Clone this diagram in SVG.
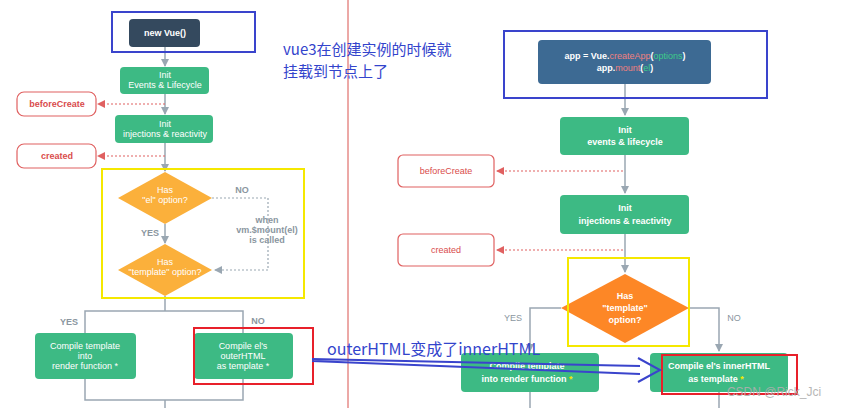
<svg xmlns="http://www.w3.org/2000/svg" width="845" height="408" viewBox="0 0 845 408">
<style>
text{font-family:"Liberation Sans",Arial,sans-serif;text-anchor:middle}
.g{fill:#3dba84}
.wt{fill:#fff;font-size:9px}
.wb{fill:#fff;font-size:9px;font-weight:bold}
.hook{fill:#fff;stroke:#e06060;stroke-width:1.2}
.ht{fill:#d94c4c;font-size:9px}
.ln{stroke:#9aa7b2;stroke-width:1.5;fill:none}
.dr{stroke:#e06060;stroke-width:1.2;stroke-dasharray:2 2;fill:none}
.dg{stroke:#9aa7b2;stroke-width:1.2;stroke-dasharray:2 2;fill:none}
.lbl{fill:#8a96a0;font-size:9px}
.blue{fill:none;stroke:#3a44cc;stroke-width:2}
.yel{fill:none;stroke:#f5e800;stroke-width:2}
.red{fill:none;stroke:#e8202a;stroke-width:2}
.cn{fill:#3344cc;font-family:"Noto Sans CJK SC",sans-serif;text-anchor:start}
</style>
<defs>
<marker id="ag" markerWidth="8" markerHeight="8" refX="7" refY="4" orient="auto" markerUnits="userSpaceOnUse"><path d="M0,0 L8,4 L0,8 z" fill="#9aa7b2"/></marker>
<marker id="ar" markerWidth="8" markerHeight="8" refX="7" refY="4" orient="auto" markerUnits="userSpaceOnUse"><path d="M0,0 L8,4 L0,8 z" fill="#e06060"/></marker>
</defs>
<rect width="845" height="408" fill="#fff"/>
<line x1="348" y1="0" x2="348" y2="408" stroke="#d9534f" stroke-width="1"/>
<g id="connectors">
<path class="ln" d="M165 47 V66" marker-end="url(#ag)"/>
<path class="ln" d="M165 94 V114" marker-end="url(#ag)"/>
<path class="dr" d="M165 104 H98" marker-end="url(#ar)"/>
<path class="ln" d="M165 143 V171" marker-end="url(#ag)"/>
<path class="dr" d="M165 156 H98" marker-end="url(#ar)"/>
<path class="ln" d="M165 224 V243" marker-end="url(#ag)"/>
<path class="dg" d="M212 198 H268 V270 H215" marker-end="url(#ag)"/>
<path class="ln" d="M165 296 V311 M85 333 V311 H243 V333"/>
<path class="ln" d="M85 379 V400 H243 V379 M165 400 V408"/>
<path class="ln" d="M625 84 V115" marker-end="url(#ag)"/>
<path class="ln" d="M625 155 V193" marker-end="url(#ag)"/>
<path class="dr" d="M623 171 H497" marker-end="url(#ar)"/>
<path class="ln" d="M625 234 V272" marker-end="url(#ag)"/>
<path class="dr" d="M623 250 H497" marker-end="url(#ar)"/>
<path class="ln" d="M561 308 H530 V351" marker-end="url(#ag)"/>
<path class="ln" d="M689 308 H719 V351" marker-end="url(#ag)"/>
<path class="ln" d="M530 392 V408 M719 392 V408"/>
</g>
<g id="newvue"><rect x="129" y="19" width="71" height="28" rx="4" fill="#34495e"/><text x="165" y="36" class="wb">new Vue()</text></g>
<g id="initEv"><rect class="g" x="120" y="67" width="89" height="27" rx="4"/><text x="165" y="78" class="wt">Init</text><text x="165" y="88" class="wt">Events &amp; Lifecycle</text></g>
<g id="bc1"><rect class="hook" x="17" y="92" width="79" height="24" rx="7"/><text x="57" y="107" class="ht" font-weight="bold">beforeCreate</text></g>
<g id="initInj"><rect class="g" x="115" y="115" width="98" height="28" rx="4"/><text x="165" y="127" class="wt">Init</text><text x="165" y="137" class="wt">injections &amp; reactivity</text></g>
<g id="cr1"><rect class="hook" x="17" y="144" width="79" height="24" rx="7"/><text x="57" y="159" class="ht" font-weight="bold">created</text></g>
<g id="d1"><path d="M165 172 L212 198 L165 224 L118 198 z" fill="#fbb03b"/><text x="165" y="193" class="wt">Has</text><text x="165" y="203" class="wt">"el" option?</text></g>
<g id="d2"><path d="M165 244 L212 270 L165 296 L118 270 z" fill="#fbb03b"/><text x="165" y="265" class="wt">Has</text><text x="165" y="275" class="wt">"template" option?</text></g>
<g id="lbls1">
<text x="242" y="193" class="lbl" font-weight="bold">NO</text>
<text x="150" y="236" class="lbl" font-weight="bold">YES</text>
<text x="267" y="223" class="lbl" font-weight="bold">when</text>
<text x="267" y="233" class="lbl" font-weight="bold">vm.$mount(el)</text>
<text x="267" y="243" class="lbl" font-weight="bold">is called</text>
<text x="69" y="325" class="lbl" font-weight="bold">YES</text>
<text x="258" y="324" class="lbl" font-weight="bold">NO</text>
</g>
<g id="ct1"><rect class="g" x="35" y="333" width="101" height="46" rx="4"/><text x="85" y="349" class="wt">Compile template</text><text x="85" y="359" class="wt">into</text><text x="85" y="369" class="wt">render function *</text></g>
<g id="co1"><rect class="g" x="194" y="333" width="99" height="46" rx="4"/><text x="243" y="349" class="wt">Compile el's</text><text x="243" y="359" class="wt">outerHTML</text><text x="243" y="369" class="wt">as template *</text></g>
<rect class="blue" x="112" y="12" width="143" height="40"/>
<rect class="yel" x="102" y="169" width="202" height="129"/>
<rect class="red" x="194" y="328" width="119" height="56"/>
<text class="cn" x="283" y="55" font-size="15">vue3在创建实例的时候就</text>
<text class="cn" x="283" y="77" font-size="15">挂载到节点上了</text>
<g id="app"><rect x="538" y="40" width="173" height="44" rx="4" fill="#3d6a93"/>
<text x="625" y="59" class="wb">app = Vue.<tspan fill="#f08080" font-weight="normal">createApp</tspan>(<tspan fill="#3dcc8a" font-weight="normal">options</tspan>)</text>
<text x="625" y="71" class="wb">app.<tspan fill="#f08080" font-weight="normal">mount</tspan>(<tspan fill="#3dcc8a" font-weight="normal">el</tspan>)</text></g>
<g id="initEv2"><rect class="g" x="560" y="117" width="129" height="38" rx="4"/><text x="625" y="133" class="wb">Init</text><text x="625" y="145" class="wb">events &amp; lifecycle</text></g>
<g id="bc2"><rect class="hook" x="398" y="155" width="96" height="32" rx="5"/><text x="446" y="174" class="ht">beforeCreate</text></g>
<g id="initInj2"><rect class="g" x="560" y="195" width="129" height="39" rx="4"/><text x="625" y="211" class="wb">Init</text><text x="625" y="224" class="wb">injections &amp; reactivity</text></g>
<g id="cr2"><rect class="hook" x="398" y="234" width="96" height="32" rx="5"/><text x="446" y="253" class="ht">created</text></g>
<g id="d3"><path d="M625 274 L689 308 L625 343 L561 308 z" fill="#fd8726"/><text x="625" y="299" class="wb">Has</text><text x="625" y="311" class="wb">"template"</text><text x="625" y="323" class="wb">option?</text></g>
<text x="513" y="321" class="lbl">YES</text>
<text x="734" y="321" class="lbl">NO</text>
<g id="ct2"><rect class="g" x="461" y="353" width="138" height="39" rx="4"/><text x="527" y="369" class="wb">Compile template</text><text x="527" y="382" class="wb">into render function <tspan fill="#f5e800">*</tspan></text></g>
<g id="co2"><rect class="g" x="650" y="353" width="138" height="39" rx="4"/><text x="719" y="369" class="wb">Compile el's innerHTML</text><text x="716" y="382" class="wb">as template <tspan fill="#f5e800">*</tspan></text></g>
<rect class="blue" x="504" y="31" width="263" height="67"/>
<rect class="yel" x="568" y="258" width="121" height="88"/>
<rect class="red" x="662" y="355" width="135" height="39"/>
<text class="cn" x="327" y="355" font-size="16">outerHTML变成了innerHTML</text>
<g id="bigarrow" fill="none" stroke="#3a44cc" stroke-width="2">
<path d="M312 359 L640 366 M312 361 L640 374"/>
<path d="M638 358 L660 370 L638 382"/>
</g>
<text x="774" y="396" fill="#b0b0b0" font-size="12" opacity="0.9">CSDN @Rick_Jci</text>
</svg>
